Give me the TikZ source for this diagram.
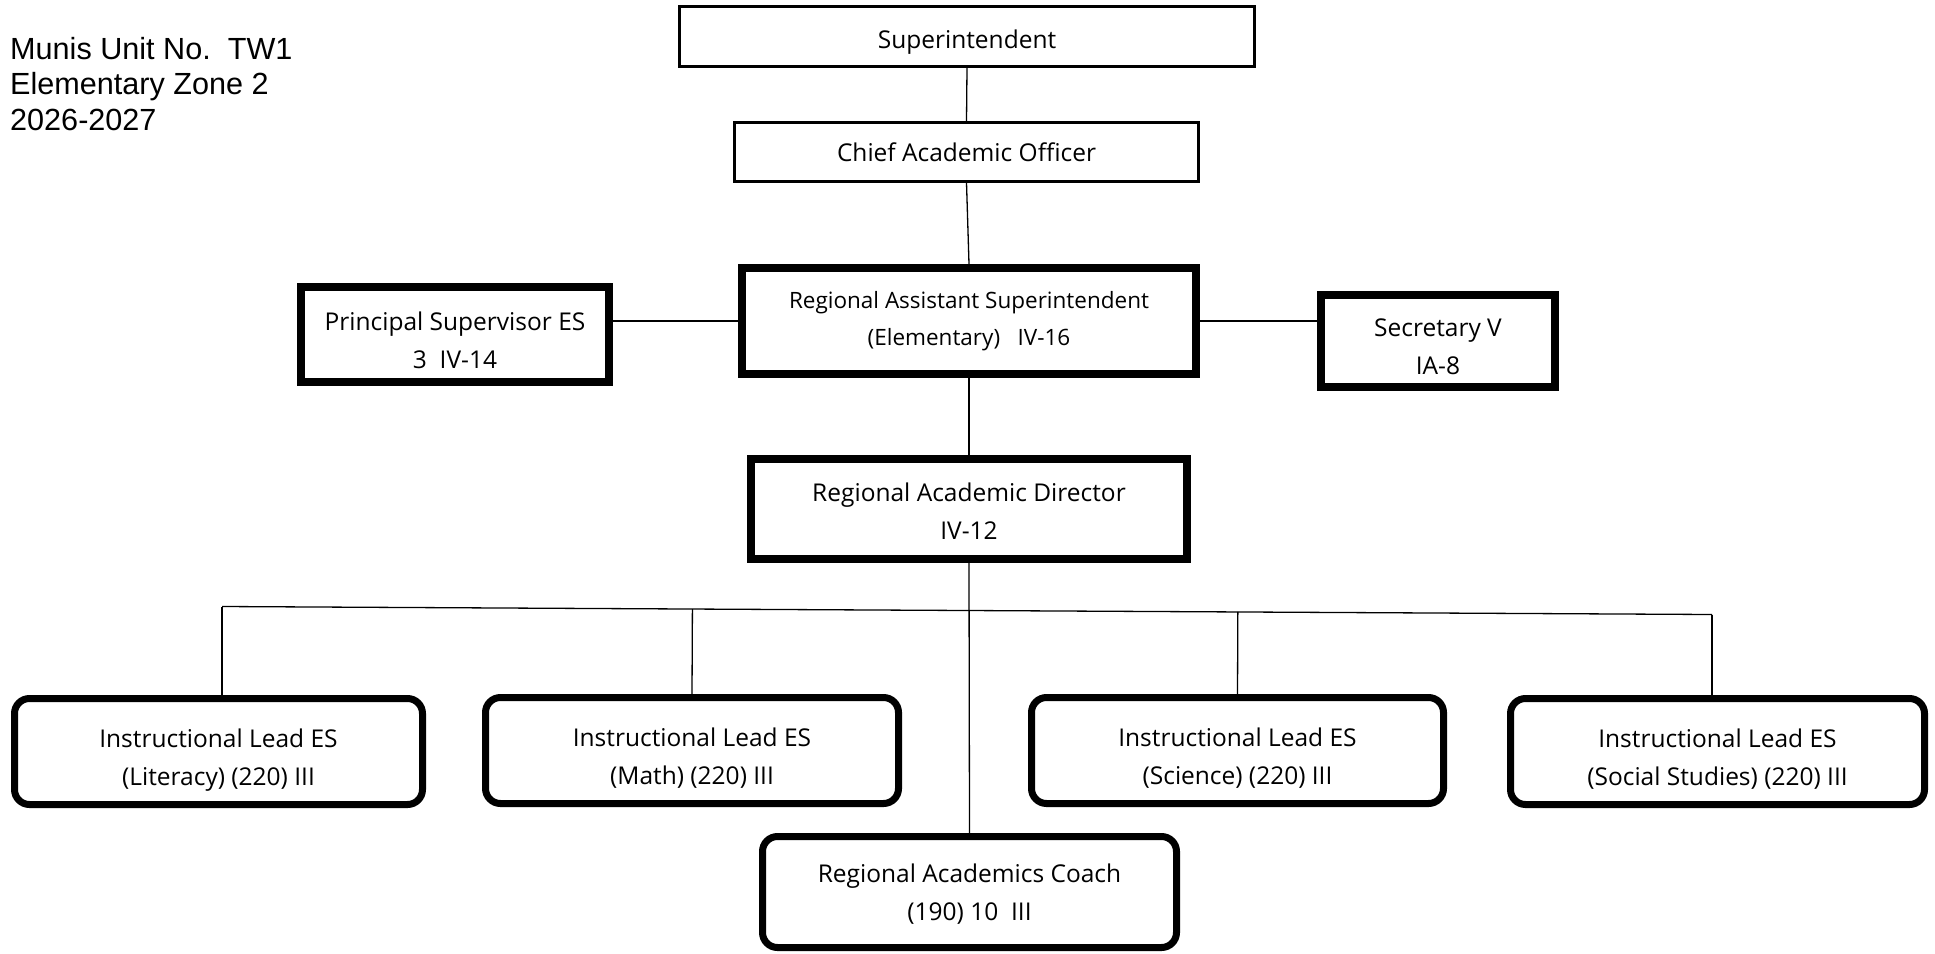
\documentclass[tikz,border=0pt]{standalone}
\usepackage{fontspec}
\setmainfont{Open Sans}
\newfontfamily\hdrfont{Liberation Sans}
\usetikzlibrary{calc}
\newcommand\topst[1]{\rule{0pt}{#1pt}}
\newcommand\botst{\rule[-6pt]{0pt}{0pt}}
\tikzset{
  every node/.style={inner sep=0pt, align=center},
  boxtxt/.style={font=\fontsize{24.5}{38}\selectfont},
  thinbox/.style={draw, line width=2.5pt, boxtxt},
  thickbox/.style={draw, line width=8pt, boxtxt},
  roundbox/.style={draw, line width=7pt, rounded corners=15pt, boxtxt},
  conn/.style={draw, line width=1.3pt},
}
\begin{document}
\begin{tikzpicture}[x=1pt, y=-1pt]
\useasboundingbox[fill=white] (0,0) rectangle (1935,953);

\node[anchor=north west, align=left, font=\hdrfont\fontsize{30.6}{35.6}\selectfont] (hdr) at (10,37)
  {Munis Unit No.\ \ TW1\\Elementary Zone 2\\2026-2027};

\node[thinbox, minimum width=575pt, minimum height=60pt] (sup) at (967,36.5) {\topst{29}Superintendent\botst};
\node[thinbox, minimum width=464pt, minimum height=59pt] (cao) at (966.5,152) {Chief Academic Officer};
\node[thickbox, minimum width=454pt, minimum height=106pt, font=\fontsize{22.5}{37}\selectfont] (ras) at (969,321)
  {Regional Assistant Superintendent\\(Elementary)\ \ \ IV-16};
\node[thickbox, minimum width=308pt, minimum height=95pt] (ps) at (455,334.5)
  {\topst{36.6}Principal Supervisor ES\\3\ \ IV-14\botst};
\node[thickbox, minimum width=234pt, minimum height=92pt] (sec) at (1438,341)
  {\topst{34}Secretary V\\IA-8\botst};
\node[thickbox, minimum width=436pt, minimum height=100pt] (rad) at (969,509)
  {\topst{29.6}Regional Academic Director\\IV-12\botst};
\node[roundbox, minimum width=408pt, minimum height=106pt] (lit) at (218.5,751.5)
  {\topst{35.9}Instructional Lead ES\\(Literacy) (220) III\botst};
\node[roundbox, minimum width=413pt, minimum height=106pt] (mat) at (692,750.5)
  {\topst{35.9}Instructional Lead ES\\(Math) (220) III\botst};
\node[roundbox, minimum width=412pt, minimum height=106pt] (sci) at (1237.5,750.5)
  {\topst{35.9}Instructional Lead ES\\(Science) (220) III\botst};
\node[roundbox, minimum width=414pt, minimum height=106pt] (soc) at (1717.5,751.5)
  {\topst{35.9}Instructional Lead ES\\(Social Studies) (220) III\botst};
\node[roundbox, minimum width=414pt, minimum height=111pt] (rac) at (969.5,892)
  {\topst{24.7}Regional Academics Coach\\(190) 10\ \ III\botst};

\draw[conn] (sup.south) -- (cao.north);
\draw[conn] (cao.south) -- (ras.north);
\draw[conn] (ras.west) -- (ras.west -| ps.east);
\draw[conn] (ras.east) -- (ras.east -| sec.west);
\draw[conn] (ras.south) -- (rad.north);
\draw[conn] (rad.south) -- (rac.north);

\coordinate (busL) at ($(lit.north)+(3.5,-88.5)$);
\coordinate (busR) at ($(soc.north)+(-5.5,-80.5)$);
\draw[conn] (busL) -- (busR);
\draw[conn] (busL) -- (busL |- lit.north);
\draw[conn] (busR) -- (busR |- soc.north);
\draw[conn] (mat.north) -- ($(busL)!(mat.north)!(busR)$);
\draw[conn] (sci.north) -- ($(busL)!(sci.north)!(busR)$);
\end{tikzpicture}
\end{document}
